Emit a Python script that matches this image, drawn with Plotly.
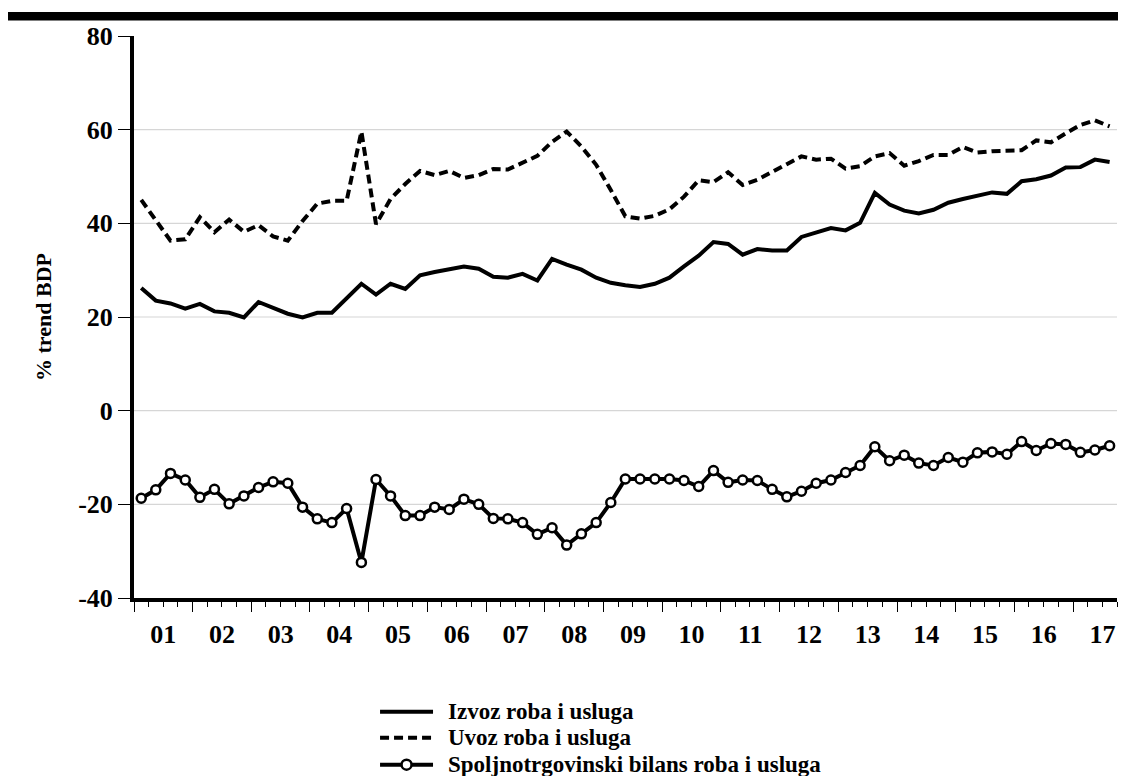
import plotly.graph_objects as go
import pandas as pd

# Quarterly periods 2001Q1 .. 2017Q3
quarters = [f"{y}Q{q}" for y in range(2001, 2018) for q in range(1, 5)][:67]

izvoz = [26.2, 23.5, 22.9, 21.8, 22.8, 21.2, 20.9, 19.9, 23.2, 21.9,
         20.7, 19.9, 20.9, 20.9, 24.1, 27.1, 24.8, 27.1, 26.0, 28.9,
         29.6, 30.1, 30.8, 30.3, 28.6, 28.4, 29.2, 27.8, 32.4, 31.2,
         30.1, 28.4, 27.3, 26.8, 26.4, 27.1, 28.4, 30.8, 33.1, 36.0,
         35.6, 33.3, 34.5, 34.2, 34.2, 37.1, 38.0, 39.0, 38.5, 40.1,
         46.5, 44.0, 42.7, 42.1, 42.9, 44.4, 45.2, 46.0, 46.6, 46.3,
         49.0, 49.4, 50.2, 51.9, 52.0, 53.6, 53.1]

uvoz = [45.0, 40.5, 36.3, 36.6, 41.3, 38.1, 40.8, 38.2, 39.6, 37.2,
        36.3, 40.5, 44.2, 44.8, 44.8, 59.6, 39.8, 45.2, 48.4, 51.2,
        50.3, 51.2, 49.7, 50.3, 51.6, 51.5, 53.0, 54.4, 57.4, 59.6,
        56.4, 52.5, 47.1, 41.5, 41.0, 41.6, 43.0, 45.7, 49.2, 48.8,
        50.9, 48.2, 49.3, 50.9, 52.5, 54.3, 53.6, 53.8, 51.7, 52.2,
        54.3, 55.0, 52.3, 53.3, 54.6, 54.6, 56.3, 55.1, 55.4, 55.6,
        55.6, 57.7, 57.3, 59.2, 61.0, 62.0, 60.7]

bilans = [-18.7, -16.9, -13.4, -14.8, -18.5, -16.8, -19.9, -18.2, -16.4, -15.2,
          -15.5, -20.6, -23.1, -23.9, -20.9, -32.4, -14.7, -18.2, -22.4, -22.4,
          -20.6, -21.1, -18.9, -20.0, -23.0, -23.1, -23.9, -26.4, -25.0, -28.7,
          -26.3, -23.9, -19.6, -14.6, -14.6, -14.6, -14.6, -14.9, -16.2, -12.8,
          -15.3, -14.8, -14.9, -16.8, -18.4, -17.2, -15.5, -14.8, -13.2, -11.7,
          -7.7, -10.7, -9.5, -11.2, -11.7, -10.0, -11.0, -9.0, -8.8, -9.3,
          -6.6, -8.5, -7.0, -7.2, -8.9, -8.4, -7.5]

series_names = ["Izvoz roba i usluga", "Uvoz roba i usluga",
                "Spoljnotrgovinski bilans roba i usluga"]
y_tick_vals = [-40, -20, 0, 20, 40, 60, 80]
y_tick_text = ["-40", "-20", "0", "20", "40", "60", "80"]
grid_vals = [-20, 0, 20, 40, 60]
y_title = "% trend BDP"

# mid-quarter dates
per = pd.PeriodIndex(quarters, freq="Q")
starts = per.to_timestamp(how="start")
ends = (per + 1).to_timestamp(how="start")
x = starts + (ends - starts) / 2

FONT = "Liberation Serif, Times New Roman, serif"
DASH = "9px,5px"

fig = go.Figure()
fig.add_trace(go.Scatter(x=x, y=izvoz, mode="lines", name=series_names[0],
                         line=dict(color="black", width=4)))
fig.add_trace(go.Scatter(x=x, y=uvoz, mode="lines", name=series_names[1],
                         line=dict(color="black", width=4, dash=DASH)))
fig.add_trace(go.Scatter(x=x, y=bilans, mode="lines+markers", name=series_names[2],
                         line=dict(color="black", width=4),
                         marker=dict(symbol="circle", size=9, color="white",
                                     line=dict(color="black", width=2.5))))

shapes = []
for g in grid_vals:
    shapes.append(dict(type="line", xref="paper", yref="y", x0=0, x1=1, y0=g, y1=g,
                       line=dict(color="#d6d6d6", width=1.2), layer="below"))
# thick black bar at top
shapes.append(dict(type="rect", xref="paper", yref="paper",
                   x0=-0.13, x1=1.01, y0=1.0278, y1=1.0427,
                   fillcolor="black", line=dict(width=0)))

# manual legend (paper coordinates)
leg_x0, leg_x1, leg_tx = 0.2503, 0.3042, 0.3174
leg_rows = [-0.2023, -0.2486, -0.2966]
leg_styles = [None, DASH, None]
annotations = []
for name, ry, dash in zip(series_names, leg_rows, leg_styles):
    ln = dict(color="black", width=4)
    if dash:
        ln["dash"] = dash
    shapes.append(dict(type="line", xref="paper", yref="paper",
                       x0=leg_x0, x1=leg_x1, y0=ry, y1=ry, line=ln))
    annotations.append(dict(text=name, xref="paper", yref="paper", x=leg_tx, y=ry,
                            xanchor="left", yanchor="middle", showarrow=False,
                            font=dict(family=FONT, size=23, color="black", weight="bold")))
shapes.append(dict(type="circle", xref="paper", yref="paper",
                   xsizemode="pixel", ysizemode="pixel",
                   xanchor=(leg_x0 + leg_x1) / 2, yanchor=leg_rows[2],
                   x0=-5, x1=5, y0=-5, y1=5,
                   fillcolor="white", line=dict(color="black", width=2.5)))

fig.update_layout(
    width=1110, height=768,
    margin=dict(l=126, r=1, t=28, b=178),
    paper_bgcolor="white", plot_bgcolor="white",
    font=dict(family=FONT, color="black"),
    shapes=shapes, annotations=annotations,
    showlegend=False,
    xaxis=dict(type="date", range=["2001-01-01", "2017-10-01"],
               tick0="2001-01-01", dtick="M12", tickformat="%y",
               ticklabelmode="period", ticks="outside", ticklen=10, tickwidth=1.2,
               tickcolor="black", showgrid=False, zeroline=False,
               showline=True, linewidth=4, linecolor="black",
               tickfont=dict(family=FONT, size=26, color="black", weight="bold"),
               minor=dict(dtick="M3", ticks="outside", ticklen=5, tickwidth=1.2,
                          tickcolor="black", showgrid=False)),
    yaxis=dict(range=[-40, 80], tickvals=y_tick_vals, ticktext=y_tick_text,
               ticks="outside", ticklen=12, tickwidth=1, tickcolor="black",
               showgrid=False, zeroline=False,
               showline=True, linewidth=4, linecolor="black",
               tickfont=dict(family=FONT, size=26, color="black", weight="bold"),
               title=dict(text=y_title, standoff=21,
                          font=dict(family=FONT, size=22, color="black", weight="bold"))),
)

fig.write_html("out.html")
